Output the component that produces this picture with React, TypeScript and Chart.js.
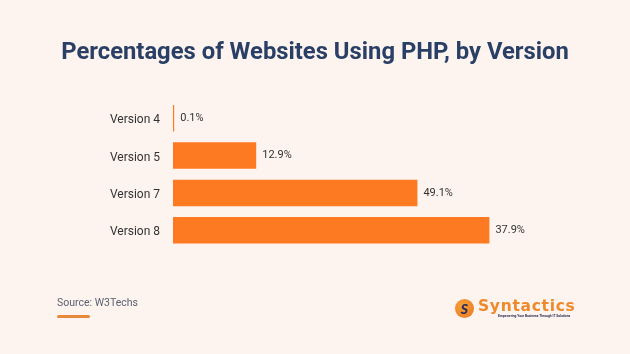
import React, { useEffect, useRef } from "react";
import { Chart, registerables } from "chart.js";

Chart.register(...registerables);

const categories = ["Version 4", "Version 5", "Version 7", "Version 8"];
// bar lengths as drawn in the picture (relative units on a 0-100 axis)
const barLengths = [0.3, 20.8, 61.1, 79.1];
// value labels printed next to the bars
const valueLabels = ["0.1%", "12.9%", "49.1%", "37.9%"];
const titleText = "Percentages of Websites Using PHP, by Version";
const sourceText = "Source: W3Techs";

const BG = "#FDF4EF";
const ORANGE = "#FD7A23";

export default function App() {
  const ref = useRef<HTMLCanvasElement | null>(null);

  useEffect(() => {
    document.body.style.margin = "0";
    const labelPlugin = {
      id: "valueLabels",
      afterDatasetsDraw(chart: any) {
        const ctx = chart.ctx;
        const meta = chart.getDatasetMeta(0);
        ctx.save();
        ctx.font = "11px Roboto";
        ctx.fillStyle = "#333333";
        ctx.textAlign = "left";
        ctx.textBaseline = "middle";
        meta.data.forEach((bar: any, i: number) => {
          ctx.fillText(valueLabels[i], bar.x + 6, bar.y);
        });
        ctx.restore();
      },
    };
    const chart = new Chart(ref.current as HTMLCanvasElement, {
      type: "bar",
      data: {
        labels: categories,
        datasets: [
          {
            data: barLengths,
            backgroundColor: ORANGE,
            barPercentage: 0.71,
            categoryPercentage: 1,
          },
        ],
      },
      options: {
        indexAxis: "y",
        animation: false,
        responsive: false,
        devicePixelRatio: 1,
        layout: { padding: { left: 57, right: 57, top: 0, bottom: 105 } },
        scales: {
          x: { display: false, min: 0, max: 100 },
          y: {
            grid: { display: false, drawTicks: false },
            border: { display: false },
            ticks: {
              color: "#333333",
              font: { family: "Roboto", size: 12 },
              padding: 13,
              labelOffset: 2,
            },
            afterFit: (s: any) => {
              s.width = 116;
            },
          },
        },
        plugins: {
          legend: { display: false },
          tooltip: { enabled: false },
          title: {
            display: true,
            text: titleText,
            color: "#2A3F65",
            font: { family: "Roboto", size: 23.8, weight: "bold" },
            padding: { top: 39, bottom: 32 },
          },
        },
      } as any,
      plugins: [labelPlugin],
    });
    return () => chart.destroy();
  }, []);

  return (
    <div style={{ position: "relative", width: 630, height: 354, background: BG, overflow: "hidden" }}>
      <canvas ref={ref} width={630} height={354} style={{ display: "block" }} />
      <div
        style={{
          position: "absolute",
          left: 57,
          top: 297,
          fontFamily: "Roboto",
          fontSize: 10.5,
          lineHeight: "12px",
          color: "#5A6070",
          whiteSpace: "nowrap",
        }}
      >
        {sourceText}
      </div>
      <div
        style={{
          position: "absolute",
          left: 57,
          top: 315,
          width: 33,
          height: 3,
          borderRadius: 2,
          background: "#E8883A",
        }}
      />
      <div
        style={{
          position: "absolute",
          left: 455,
          top: 299,
          width: 19,
          height: 19,
          borderRadius: 10,
          background: "radial-gradient(circle at 40% 35%, #F7A03C, #E9771C)",
          color: "#2A2F55",
          fontFamily: "Lato",
          fontWeight: 900,
          fontSize: 14,
          lineHeight: "19px",
          textAlign: "center",
          fontStyle: "italic",
        }}
      >
        S
      </div>
      <div
        style={{
          position: "absolute",
          left: 478,
          top: 297,
          fontFamily: "DejaVu Sans",
          fontWeight: 700,
          fontSize: 15.5,
          letterSpacing: 0.7,
          lineHeight: "18px",
          color: "#EF8A2C",
          whiteSpace: "nowrap",
        }}
      >
        Syntactics
      </div>
      <div
        style={{
          position: "absolute",
          left: 498,
          top: 314,
          fontFamily: "Roboto",
          fontWeight: 700,
          fontSize: 3.3,
          lineHeight: "4px",
          color: "#2A2F55",
          whiteSpace: "nowrap",
        }}
      >
        Empowering Your Business Through IT Solutions
      </div>
    </div>
  );
}
